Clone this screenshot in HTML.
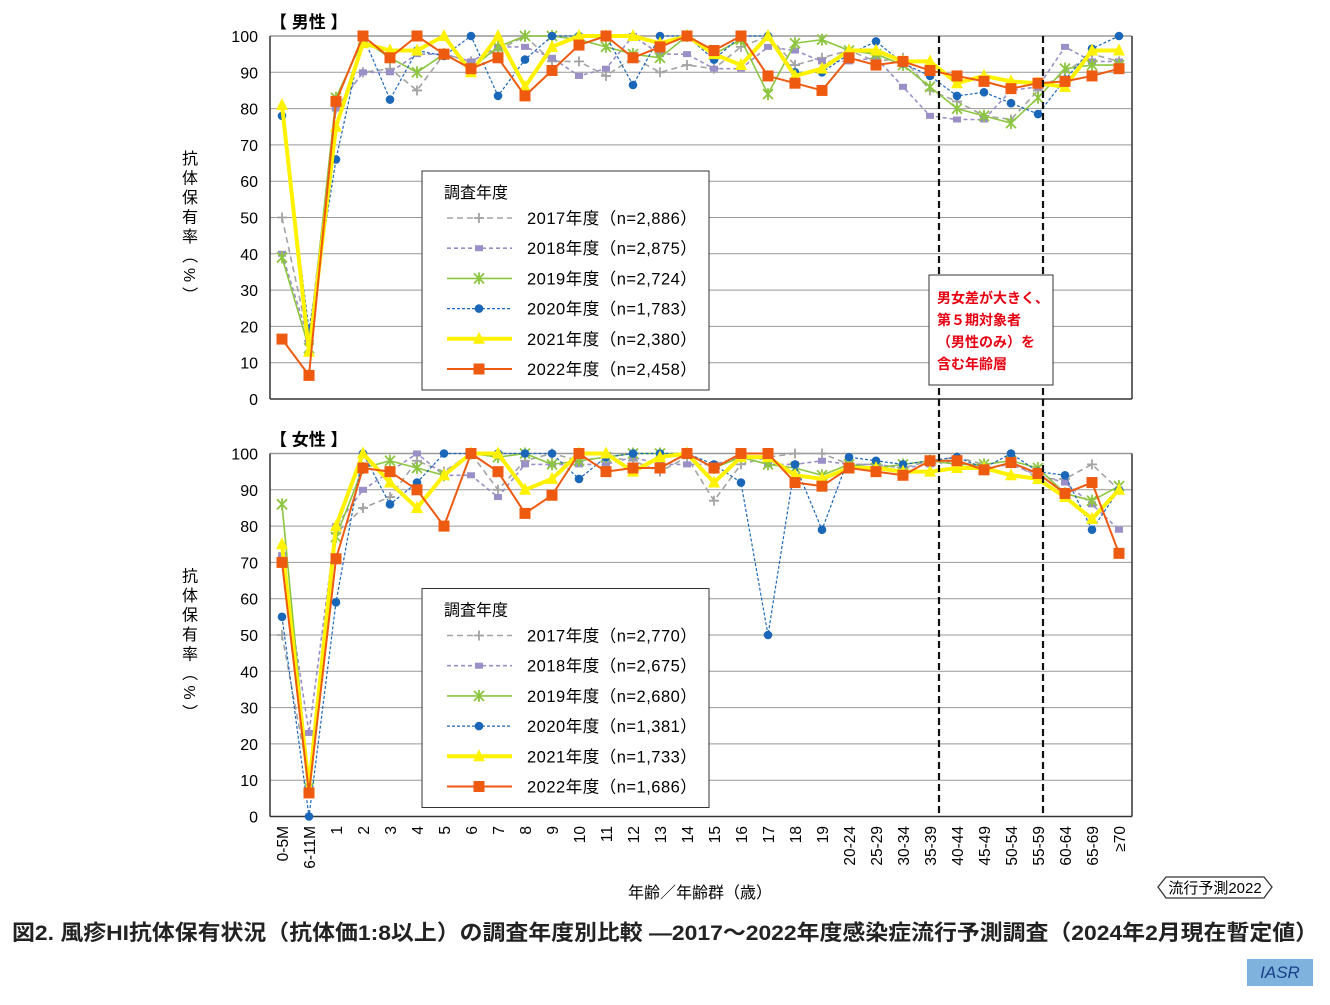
<!DOCTYPE html>
<html><head><meta charset="utf-8">
<style>
html,body{margin:0;padding:0;background:#fff;}
svg text{font-family:"Liberation Sans","Noto Sans CJK JP",sans-serif;}
</style></head>
<body>
<svg id="s" width="1330" height="1000" xmlns="http://www.w3.org/2000/svg"></svg>
<script>
const S=document.getElementById('s');
let h='';
const X0=282,DX=27.0,L=270,R=1132;
const cats=['0-5M','6-11M','1','2','3','4','5','6','7','8','9','10','11','12','13','14','15','16','17','18','19','20-24','25-29','30-34','35-39','40-44','45-49','50-54','55-59','60-64','65-69','≥70'];
function yv(top,v){return top+(100-v)*(363/100);}
const male={
g:[50,16,80,90,91,85,95,93,96,100,93,93,89,94,90,92,91,97,100,92,94,96,93,94,85,82,78,77,85,90,95,93],
p:[40,16,80,90,90,95,95,93,97,97,94,89,91,100,95,95,91,91,97,96,93,93,94,86,78,77,77,85,86,97,93,93],
gr:[39,14,83,99,94,90,95,91,97,100,100,99,97,95,94,100,95,99,84,98,99,96,95,92,86,80,78,76,83,91,92,92],
b:[78,19,66,100,82.5,96,94.5,100,83.5,93.5,100,100,100,86.5,100,100,93.5,100,100,90,90,95,98.5,92.5,89,83.5,84.5,81.5,78.5,88,96.5,100],
y:[81,13,75,98,96,96,100,90,100,86,97,100,100,100,98,100,95,92,100,89,91,96,96,93,93,87,89,87.5,87,86,96,96],
o:[16.5,6.5,82,100,94,100,95,91,94,83.5,90.5,97.5,100,94,97,100,96,100,89,87,85,94,92,93,90.5,89,87.5,85.5,87,87.5,89,91]};
const fem={
g:[50,10,78,85,88,98,95,100,90,98,100,98,99,98,95,99,87,97,99,100,100,97,97,96,98,99,97,98,93,93,97,90],
p:[72,23,80,90,95,100,94,94,88,97,97,97,97,99,97,97,97,99,97,97,98,97,97,96,97,98,96,97,94,92,86,79],
gr:[86,8,77,96,98,96,94,100,99,100,97,98,99,100,100,100,96,99,97,96,94,97,96,97,98,97,97,98,96,89,87,91],
b:[55,0,59,100,86,92,100,100,100,100,100,93,99,100,100,100,97,92,50,97,79,99,98,97,98,99,96,100,95,94,79,90],
y:[75,8,80,100,92,85,94,100,100,90,93,100,100,95,99,100,92,99,99,94,93,96,96,95,95,96,96,94,93,88,82,90],
o:[70,6.5,71,96,95,90,80,100,95,83.5,88.5,100,95,96,96,100,96,100,100,92,91,96,95,94,98,98,95.5,97.5,94.5,89,92,72.5]};
const st={
g:{c:'#a3a3a3',w:1.6,d:'6,4',m:'plus'},
p:{c:'#9a8fc7',w:1.6,d:'4,3',m:'sq2'},
gr:{c:'#8cc63f',w:1.6,d:'',m:'x'},
b:{c:'#1a66b8',w:1.2,d:'3,2',m:'circ'},
y:{c:'#fff200',w:4,d:'',m:'tri'},
o:{c:'#ee5a10',w:2,d:'',m:'sq'}};
function mk(m,x,y,c){
 if(m=='plus')return `<path d="M${x-5},${y}h10M${x},${y-5}v10" stroke="${c}" stroke-width="1.8"/>`;
 if(m=='sq2')return `<rect x="${x-4}" y="${y-3}" width="8" height="6" fill="${c}"/>`;
 if(m=='x')return `<path d="M${x-5},${y-5}l10,10M${x+5},${y-5}l-10,10M${x},${y-6}v12" stroke="${c}" stroke-width="1.8"/>`;
 if(m=='circ')return `<circle cx="${x}" cy="${y}" r="4.3" fill="${c}"/>`;
 if(m=='tri')return `<path d="M${x},${y-7}L${x+6},${y+5}L${x-6},${y+5}Z" fill="${c}"/>`;
 if(m=='sq')return `<rect x="${x-5.5}" y="${y-5.5}" width="11" height="11" fill="${c}"/>`;
}
function chart(top,data,title,ns){
 h+=`<text x="270" y="${top-8}" font-size="17" font-weight="bold">【 ${title} 】</text>`;
 for(let v=0;v<=100;v+=10){const y=yv(top,v);
  h+=`<line x1="${L}" x2="${R}" y1="${y}" y2="${y}" stroke="${v==0?'#333':'#999'}" stroke-width="${v==0||v==100?1.5:1}"/>`;
  h+=`<text x="258" y="${y+6}" font-size="16" text-anchor="end">${v}</text>`;}
 h+=`<line x1="${L}" x2="${L}" y1="${top}" y2="${top+363}" stroke="#333" stroke-width="1.5"/><line x1="${R}" x2="${R}" y1="${top}" y2="${top+363}" stroke="#333" stroke-width="1.5"/>`;
 const lab='抗体保有率（%）'.split('');
 lab.forEach((c,i)=>{h+=`<text x="190" y="${top+128+i*19.5}" font-size="16" text-anchor="middle" ${c=='（'||c=='）'||c=='%'?`transform="rotate(90 190 ${top+122+i*19.5})"`:''}>${c}</text>`;});
 for(const k of ['g','p','gr','b','y','o']){const s=st[k];
  const pts=data[k].map((v,i)=>[X0+i*DX,yv(top,v)]);
  h+=`<polyline points="${pts.map(p=>p.join(',')).join(' ')}" fill="none" stroke="${s.c}" stroke-width="${s.w}" ${s.d?`stroke-dasharray="${s.d}"`:''} stroke-linejoin="round"/>`;
  pts.forEach(p=>h+=mk(s.m,p[0],p[1],s.c));}
 const lt=top+135;
 h+=`<rect x="422" y="${lt}" width="287" height="219" fill="#fff" stroke="#333" stroke-width="1"/>`;
 h+=`<text x="444" y="${lt+27}" font-size="16">調査年度</text>`;
 ['g','p','gr','b','y','o'].forEach((k,i)=>{const s=st[k];const y=lt+47+i*30.2;
  h+=`<line x1="447" x2="512" y1="${y}" y2="${y}" stroke="${s.c}" stroke-width="${s.w}" ${s.d?`stroke-dasharray="${s.d}"`:''}/>`+mk(s.m,479,y,s.c);
  h+=`<text x="527" y="${y+6}" font-size="16.5" letter-spacing="0.5">${2017+i}年度（n=${ns[i]}）</text>`;});
}
chart(36,male,'男性',['2,886','2,875','2,724','1,783','2,380','2,458']);
chart(453.5,fem,'女性',['2,770','2,675','2,680','1,381','1,733','1,686']);
[939,1043].forEach(x=>h+=`<line x1="${x}" x2="${x}" y1="36" y2="817" stroke="#111" stroke-width="2.2" stroke-dasharray="7,4"/>`);
h+=`<rect x="929" y="275" width="124" height="110" fill="#fff" stroke="#333" stroke-width="1"/>`;
['男女差が大きく、','第５期対象者','（男性のみ）を','含む年齢層'].forEach((t,i)=>h+=`<text x="937" y="${303+i*22}" font-size="14" font-weight="bold" fill="#e60012">${t}</text>`);
cats.forEach((c,i)=>{const x=X0+i*DX+6;h+=`<text x="${x}" y="826" font-size="15.5" text-anchor="end" transform="rotate(-90 ${x} 826)">${c}</text>`;});
h+=`<text x="700" y="898" font-size="16" text-anchor="middle">年齢／年齢群（歳）</text>`;
h+=`<path d="M1166,877H1264L1272,887L1264,898H1166L1158,887Z" fill="#fff" stroke="#333" stroke-width="1.3"/><text x="1215" y="893" font-size="15" text-anchor="middle">流行予測2022</text>`;
h+=`<text x="12" y="940" font-size="21.5" font-weight="bold" fill="#222" textLength="1306" lengthAdjust="spacingAndGlyphs">図2. 風疹HI抗体保有状況（抗体価1:8以上）の調査年度別比較 ―2017〜2022年度感染症流行予測調査（2024年2月現在暫定値）</text>`;
h+=`<rect x="1247" y="959" width="66" height="27" fill="#7fb3de"/><text x="1280" y="978" font-size="17" font-style="italic" font-family="Liberation Serif,serif" fill="#1a3f8a" text-anchor="middle">IASR</text>`;
S.innerHTML=h;
</script>
</body></html>
